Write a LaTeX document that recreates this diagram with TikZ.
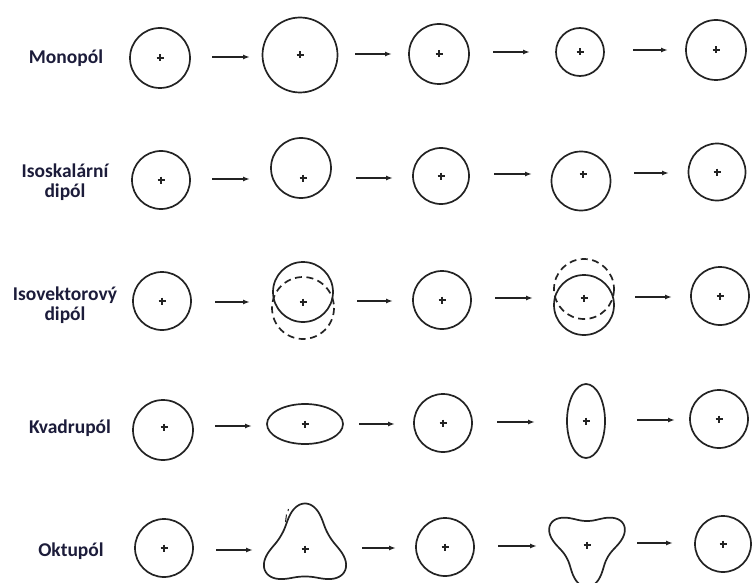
\documentclass[tikz,border=0pt]{standalone}
\usepackage{fontspec}
\setmainfont{Carlito}
\usetikzlibrary{arrows.meta}
\definecolor{ink}{HTML}{232323}
\definecolor{labelink}{HTML}{1C1C3A}
\tikzset{
  outline/.style={draw=ink, line width=1.7pt},
  dashedoutline/.style={outline, dash pattern=on 7pt off 4.5pt},
  conn/.style={draw=ink, line width=1.5pt, -{Latex[length=7pt,width=5pt]}},
  lbl/.style={font=\bfseries\fontsize{19.5}{20.5}\selectfont, text=labelink, align=center},
  pics/plusmark/.style={code={\draw[ink, line width=1.2pt] (-3.5,0) -- (3.5,0) (0,-3.5) -- (0,3.5);}}
}
\begin{document}
\begin{tikzpicture}[x=1pt,y=-1pt]
\fill[white] (0,0) rectangle (755,583);
\useasboundingbox (0,0) rectangle (755,583);

% row labels
\node[lbl] (lmono) at (66,58) {Monopól};
\node[lbl] (liss) at (65,182) {Isoskalární\\dipól};
\node[lbl] (livd) at (65,305) {Isovektorový\\dipól};
\node[lbl] (lquad) at (70,428) {Kvadrupól};
\node[lbl] (loct) at (71,551) {Oktupól};

% plain circles with the centre mark in the middle
\foreach \cx/\cy/\r in {160/58/30, 300/55/37.5, 439/54/30, 580/52/24, 716/50/30,
                        161/180/29, 441/176/28, 717/172/28.5,
                        162/301/29, 442/300/29, 720/296/29,
                        443/423/29, 719/419/29,
                        164/548/29, 445/547/29, 723/544/28}{
  \draw[outline] (\cx,\cy) circle[radius=\r];
  \pic at (\cx,\cy) {plusmark};
}

% isoscalar dipole: shifted circles
\draw[outline] (301,168) circle[radius=30];
\pic at (303,178) {plusmark};
\draw[outline] (581,181) circle[radius=29.5];
\pic at (583,174) {plusmark};

% isovector dipole: solid and dashed circles moving apart
\draw[outline] (303,292) circle[radius=30];
\draw[dashedoutline] (303,308) circle[radius=31];
\pic at (303,302) {plusmark};
\draw[outline] (584,305) circle[radius=30];
\draw[dashedoutline] (584,289) circle[radius=30];
\pic at (584,298) {plusmark};

% quadrupole: oblate and prolate ellipses
\draw[outline] (305,424) ellipse[x radius=38, y radius=20];
\pic at (305,424) {plusmark};
\draw[outline] (586,421) ellipse[x radius=19, y radius=37];
\pic at (586,421) {plusmark};
\pic at (164,427) {plusmark};
\draw[outline] (163,430) circle[radius=30];

% octupole: three-lobed outlines (rounded lobes, gently hollow sides)
\draw[outline, shift={(305,549)}]
  plot[domain=0:360, samples=241]
  (\x:{35.3+9*cos(3*\x-90)+1.2*cos(6*\x-180)}) -- cycle;
\pic at (305,549) {plusmark};
\draw[ink, line width=1pt] (288.5,509) -- (288,511) (286.5,514.5) -- (285.5,522);
\draw[outline, shift={(587,545)}]
  plot[domain=0:360, samples=241]
  (\x:{31.8+9*cos(3*\x+90)+1.2*cos(6*\x+180)}) -- cycle;
\pic at (587,545) {plusmark};

% arrows between the stages
\foreach \n/\xa/\xb/\y in {
  ra/212/250/57, rb/355/392/54, rc/493/530/52, rd/633/668/50,
  sa/212/250/179, sb/356/393/178, sc/494/532/174, sd/634/669/173,
  ta/215/250/302, tb/357/393/301, tc/495/533/298, td/635/672/297,
  ua/215/252/426, ub/359/395/424, uc/497/535/422, ud/637/675/420,
  va/216/253/550, vb/362/396/548, vc/498/537/546, vd/637/673/543}{
  \coordinate (\n s) at (\xa,\y);
  \coordinate (\n e) at (\xb,\y);
  \draw[conn] (\n s) -- (\n e);
}
\end{tikzpicture}
\end{document}
